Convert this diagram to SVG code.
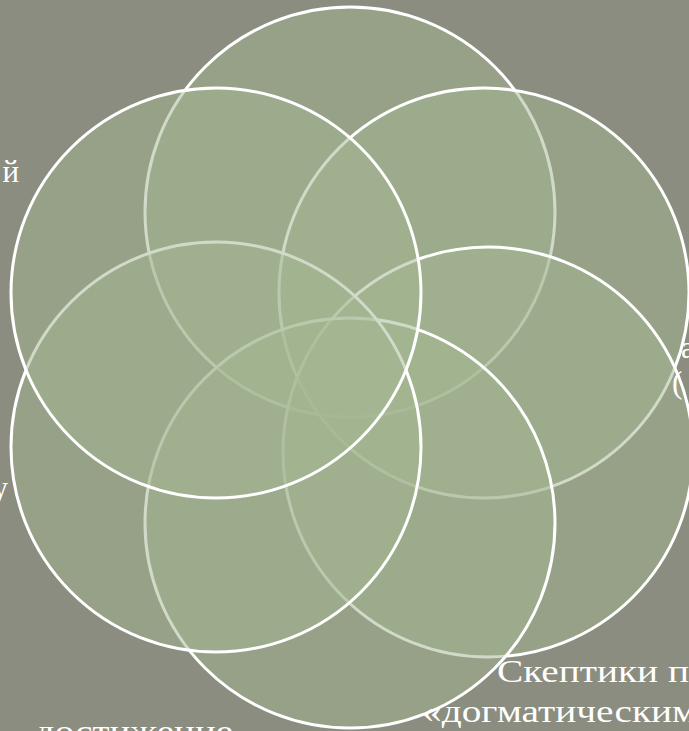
<svg xmlns="http://www.w3.org/2000/svg" width="689" height="731" viewBox="0 0 689 731">
<style>
.c{fill:rgb(163,181,145);fill-opacity:0.5;stroke:#ffffff;stroke-width:3}
.t{font-family:"Liberation Serif","DejaVu Serif",serif;font-size:31px;fill:#ffffff}
</style>
<rect x="0" y="0" width="689" height="731" fill="#8a8d7f"/>
<g id="circles">
<g id="c-top"><circle class="c" cx="350" cy="212" r="205"/></g>
<g id="c-upper-right"><circle class="c" cx="484" cy="293" r="205"/></g>
<g id="c-middle-right"><circle class="c" cx="488" cy="452" r="205"/></g>
<g id="c-bottom"><circle class="c" cx="350" cy="523" r="205"/></g>
<g id="c-middle-left"><circle class="c" cx="216" cy="447" r="205"/></g>
<g id="c-upper-left"><circle class="c" cx="216" cy="293" r="205"/></g>
</g>
<g id="connectors"></g>
<g id="labels">
<text class="t" x="19" y="182" text-anchor="end">й</text>
<text class="t" x="8" y="498" text-anchor="end">у</text>
<text class="t" x="681" y="358">а</text>
<text class="t" x="672" y="393">(</text>
<text class="t" x="497" y="682" textLength="192" lengthAdjust="spacingAndGlyphs">Скептики п</text>
<text class="t" x="422" y="722" textLength="275" lengthAdjust="spacingAndGlyphs">«догматическим</text>
<text class="t" x="35" y="742" textLength="198" lengthAdjust="spacingAndGlyphs">достижение</text>
</g>
</svg>
